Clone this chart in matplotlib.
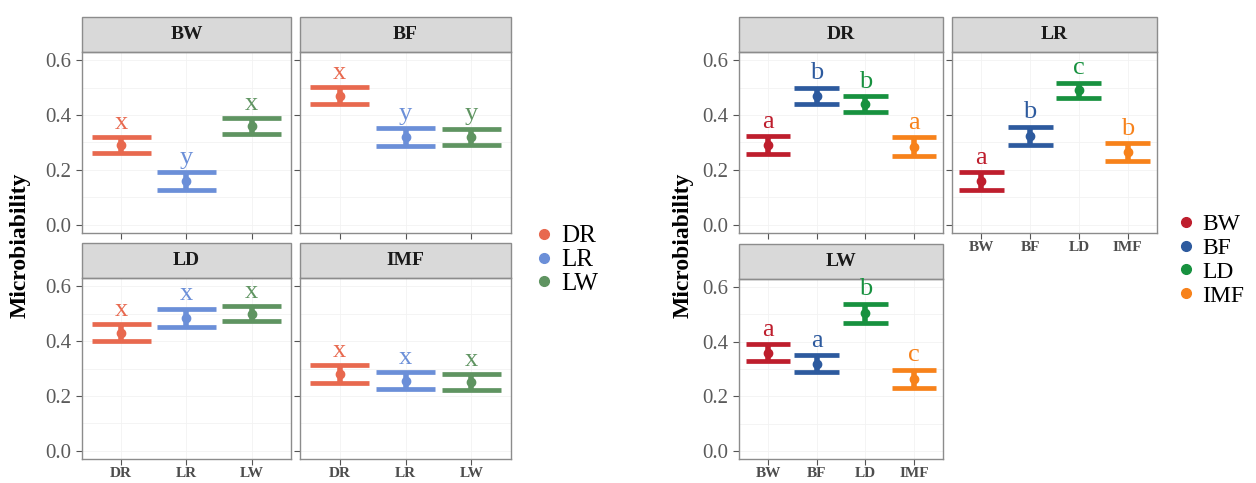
import matplotlib
matplotlib.use("Agg")
import matplotlib.pyplot as plt
from matplotlib.patches import Rectangle
from matplotlib.lines import Line2D

plt.rcParams['font.family'] = ['Liberation Serif', 'DejaVu Serif']

# left chart: facets are sites, x is tissue
left_facets = ["BW", "BF", "LD", "IMF"]
left_cats = ["DR", "LR", "LW"]
left_colors = ["#E8694F", "#6B8FD8", "#5F9461"]
bw_mean = [0.29, 0.16, 0.36]
bw_err = [0.030, 0.032, 0.028]
bw_lab = ["x", "y", "x"]
bf_mean = [0.47, 0.32, 0.32]
bf_err = [0.031, 0.032, 0.030]
bf_lab = ["x", "y", "y"]
ld_mean = [0.43, 0.485, 0.50]
ld_err = [0.031, 0.033, 0.028]
ld_lab = ["x", "x", "x"]
imf_mean = [0.28, 0.255, 0.25]
imf_err = [0.033, 0.031, 0.029]
imf_lab = ["x", "x", "x"]

# right chart: facets are tissue, x is site
right_facets = ["DR", "LR", "LW"]
right_cats = ["BW", "BF", "LD", "IMF"]
right_colors = ["#BE1E2D", "#2D5A9E", "#17913F", "#F7821B"]
dr_mean = [0.29, 0.47, 0.44, 0.285]
dr_err = [0.033, 0.030, 0.030, 0.035]
dr_lab = ["a", "b", "b", "a"]
lr_mean = [0.16, 0.325, 0.49, 0.265]
lr_err = [0.033, 0.033, 0.028, 0.033]
lr_lab = ["a", "b", "c", "b"]
lw_mean = [0.36, 0.32, 0.505, 0.265]
lw_err = [0.030, 0.030, 0.035, 0.033]
lw_lab = ["a", "a", "b", "c"]

W, H = 1256, 483
fig = plt.figure(figsize=(W / 100, H / 100), dpi=100)


def px(x0, y0, x1, y1):
    return [x0 / W, 1 - y1 / H, (x1 - x0) / W, (y1 - y0) / H]


def panel(rect, title, cats, colors, means, errs, labs, show_x, show_y, cap=0.45):
    ax = fig.add_axes(px(*rect))
    n = len(cats)
    xs = list(range(n))
    ax.set_xlim(-0.6, n - 1 + 0.6)
    ax.set_ylim(-0.03, 0.63)
    ax.set_yticks([0.0, 0.2, 0.4, 0.6])
    ax.set_yticks([0.1, 0.3, 0.5], minor=True)
    ax.set_xticks(xs)
    ax.grid(True, which='both', color='#F2F2F2', lw=0.6)
    ax.set_axisbelow(True)
    for i in xs:
        m, e, c = means[i], errs[i], colors[i]
        ax.vlines(i, m - e, m + e, color=c, lw=4)
        ax.hlines([m - e, m + e], i - cap, i + cap, color=c, lw=3.4)
        ax.plot(i, m, 'o', color=c, ms=6)
        ax.text(i, m + e + 0.012, labs[i], color=c, ha='center', va='bottom', fontsize=19)
    for s in ax.spines.values():
        s.set_color('#8C8C8C')
        s.set_linewidth(1.0)
    ax.tick_params(length=4, color='#555555', labelsize=15, labelcolor='#5A5A5A')
    ax.tick_params(axis='x', pad=1.5)
    ax.tick_params(which='minor', length=0)
    if show_x:
        ax.set_xticklabels(cats, fontsize=11, fontweight='bold', color='#4D4D4D')
    else:
        ax.set_xticklabels([])
    if show_y:
        ax.set_yticklabels(["0.0", "0.2", "0.4", "0.6"])
    else:
        ax.set_yticklabels([])
    ah = rect[3] - rect[1]
    sh = 35 / ah
    ax.add_patch(Rectangle((0, 1), 1, sh, transform=ax.transAxes, clip_on=False,
                           facecolor='#D9D9D9', edgecolor='#8C8C8C', lw=1.0))
    ax.text(0.5, 1 + sh / 2, title, transform=ax.transAxes, ha='center', va='center',
            fontsize=14, fontweight='bold', color='#1A1A1A')
    return ax


# left chart
panel((82, 52, 291, 233), "BW", left_cats, left_colors, bw_mean, bw_err, bw_lab, False, True)
panel((300, 52, 511, 233), "BF", left_cats, left_colors, bf_mean, bf_err, bf_lab, False, False)
panel((82, 278, 291, 459), "LD", left_cats, left_colors, ld_mean, ld_err, ld_lab, True, True)
panel((300, 278, 511, 459), "IMF", left_cats, left_colors, imf_mean, imf_err, imf_lab, True, False)

# right chart
panel((739, 52, 943, 233), "DR", right_cats, right_colors, dr_mean, dr_err, dr_lab, False, True, 0.46)
panel((952, 52, 1157, 233), "LR", right_cats, right_colors, lr_mean, lr_err, lr_lab, True, False, 0.46)
panel((739, 279, 943, 459), "LW", right_cats, right_colors, lw_mean, lw_err, lw_lab, True, True, 0.46)

fig.text(20 / W, 1 - 245 / H, "Microbiability", rotation=90, ha='center', va='center',
         fontsize=17, fontweight='bold')
fig.text(683 / W, 1 - 245 / H, "Microbiability", rotation=90, ha='center', va='center',
         fontsize=17, fontweight='bold')

lh = [Line2D([], [], marker='o', ls='', color=c, ms=7) for c in left_colors]
fig.legend(lh, left_cats, loc='center left', bbox_to_anchor=(516 / W, 1 - 260 / H),
           frameon=False, fontsize=18, handletextpad=0.1, labelspacing=0.05,
           handlelength=1.2, borderpad=0)
rh = [Line2D([], [], marker='o', ls='', color=c, ms=7) for c in right_colors]
fig.legend(rh, right_cats, loc='center left', bbox_to_anchor=(1160 / W, 1 - 260 / H),
           frameon=False, fontsize=17, handletextpad=0.1, labelspacing=0.1,
           handlelength=1.2, borderpad=0)

fig.savefig("out.png", dpi=100)
